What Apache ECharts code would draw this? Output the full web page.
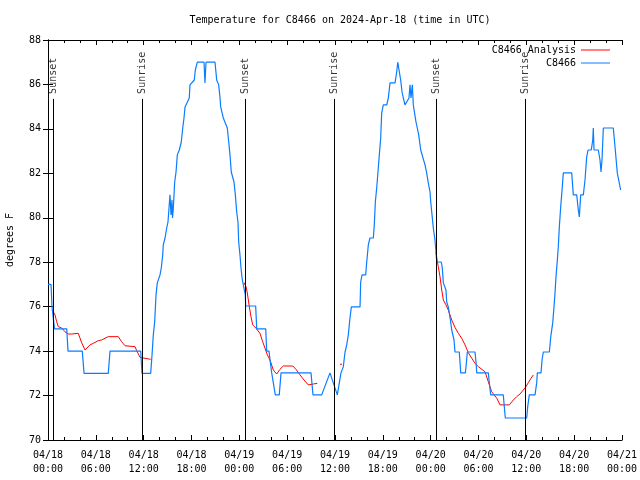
<!DOCTYPE html>
<html>
<head>
<meta charset="utf-8">
<script src="https://cdn.jsdelivr.net/npm/echarts@6/dist/echarts.min.js"></script>
<style>html,body{margin:0;padding:0;background:#fff}#c{width:640px;height:480px}</style>
</head>
<body>
<div id="c"></div>
<script>
// hours since 2024-04-18 00:00 UTC
const blueHours = [0.00,0.38,0.50,0.75,0.82,2.35,2.51,4.30,4.52,7.56,7.78,11.63,11.79,12.88,
13.05,13.21,13.38,13.55,13.71,14.05,14.21,14.39,14.46,14.68,14.89,15.05,15.30,15.43,15.55,15.62,15.72,15.89,16.06,16.22,16.47,16.72,16.90,17.06,17.19,17.72,17.81,18.35,18.48,18.73,19.57,19.69,19.82,20.95,21.16,21.41,21.58,21.66,21.99,22.49,22.67,22.83,22.99,23.33,23.50,23.67,23.83,23.92,24.08,24.21,24.34,24.50,24.75,24.80,
26.05,26.18,27.31,27.43,27.72,27.85,28.06,28.26,28.51,29.01,29.23,32.99,33.24,34.33,35.37,36.29,36.54,36.75,
37.04,37.26,37.47,37.67,37.88,38.05,39.14,39.22,39.39,39.85,39.98,40.18,40.39,40.81,40.93,41.06,41.23,41.43,41.56,41.73,41.86,42.06,42.49,42.69,42.90,43.53,43.74,43.87,44.07,44.24,44.41,44.57,44.78,44.99,45.28,45.41,45.53,45.70,45.82,46.16,46.32,46.50,46.75,47.29,47.50,47.70,47.92,48.01,48.17,48.33,48.54,48.67,48.76,
49.33,49.46,49.59,49.80,49.92,50.01,50.21,50.34,50.51,50.64,50.84,50.93,51.05,51.59,51.68,51.77,52.35,52.43,52.60,53.56,53.69,53.78,55.23,55.36,55.53,57.11,57.24,57.36,60.05,60.17,60.37,61.09,61.30,61.38,61.84,61.97,62.13,62.89,63.06,63.31,63.47,63.60,63.72,63.89,64.01,64.14,64.31,64.48,64.64,65.69,65.89,66.32,66.52,66.65,66.82,67.15,67.36,67.57,67.74,68.15,68.33,68.40,68.49,69.03,69.24,69.37,69.49,69.66,70.91,71.16,71.41,71.66,71.83];
const blueTemps = [77,77,76,76,75,75,74,74,73,73,74,74,73,73,
73.83,74.73,75.31,76.53,77.07,77.43,77.74,78.33,78.78,79.09,79.54,79.81,81.03,80.13,80.80,79.99,80.44,81.61,82.06,82.83,83.05,83.41,84.04,84.49,84.99,85.39,85.98,86.20,86.65,87.0,87.0,86.07,87.0,87.0,86.20,85.98,85.39,84.99,84.49,84.04,83.41,82.83,82.06,81.61,81.03,80.26,79.81,78.91,78.33,77.74,77.29,76.98,76.53,76.03,
76.03,75.0,75.0,74.0,74.0,73.6,73.02,73.02,72.03,72.03,73.02,73.02,72.03,72.03,73.02,72.03,72.03,73.02,
73.29,73.96,74.28,74.73,75.49,75.99,75.99,77.11,77.43,77.43,78.01,78.78,79.09,79.09,79.68,80.71,81.34,82.24,82.83,83.59,84.72,85.08,85.08,85.39,86.07,86.07,86.56,87.0,87.0,86.20,85.66,85.39,85.08,85.08,85.39,85.98,85.39,85.98,85.08,84.31,84.04,83.73,83.05,82.38,82.02,81.57,81.16,80.71,80.13,79.54,79.0,78.46,78.01,
78.01,77.74,77.07,77.07,76.75,76.21,75.99,75.99,75.31,74.95,74.95,74.50,73.96,73.96,73.51,73.02,73.02,73.29,73.96,73.96,73.51,73.02,73.02,72.57,72.03,72.03,71.49,70.99,70.99,71.49,72.03,72.03,72.57,73.02,73.02,73.60,73.96,73.96,74.64,75.27,75.99,76.62,77.34,78.10,78.69,79.59,80.49,81.25,82.02,82.02,81.03,81.03,80.35,80.04,81.03,81.03,81.70,82.74,83.05,83.05,83.50,84.04,83.05,83.05,82.60,82.06,82.60,84.04,84.04,83.05,82.02,82.02,81.25];

const redHours = [0.54,0.88,1.09,1.29,1.72,2.13,2.55,2.97,3.80,4.01,4.23,4.64,4.85,5.27,5.68,6.31,6.74,7.15,7.56,8.82,9.24,9.66,10.91,11.13,11.54,11.75,12.88,null,
24.59,24.84,25.00,25.25,25.46,25.68,26.09,26.59,26.93,27.22,27.51,27.85,28.26,28.69,29.10,29.52,30.70,31.11,31.61,32.11,32.65,33.28,33.78,null,
36.63,36.88,null,
48.67,48.83,48.96,49.17,49.39,49.59,49.92,50.21,50.64,51.05,51.47,51.89,52.31,52.72,53.15,53.56,53.98,54.82,55.23,55.66,56.29,56.70,57.87,58.37,58.79,59.21,59.62,59.96,60.25,60.59,60.88];
const redTemps = [75.85,75.63,75.32,75.10,75.04,74.87,74.77,74.77,74.80,74.59,74.37,74.05,74.10,74.28,74.35,74.47,74.50,74.58,74.65,74.65,74.42,74.24,74.20,74.02,73.72,73.66,73.63,null,
77.08,76.90,76.62,76.00,75.55,75.18,75.03,74.80,74.42,74.13,73.83,73.60,73.15,72.97,73.18,73.33,73.33,73.18,72.93,72.70,72.48,72.52,72.55,null,
73.41,73.41,null,
78.47,78.02,77.80,77.35,76.75,76.30,76.08,75.85,75.40,75.07,74.80,74.58,74.28,73.93,73.68,73.45,73.30,73.07,72.62,72.17,71.88,71.58,71.58,71.80,71.95,72.07,72.25,72.40,72.58,72.78,72.93];

const sunHours = [0.67, 11.83, 24.75, 35.92, 48.67, 59.88];
const sunLabels = ['Sunset', 'Sunrise', 'Sunset', 'Sunrise', 'Sunset', 'Sunrise'];
const sunLineTop = 85.35;
const sunLabelAt = 85.53;

const xTickLabels = ['04/18\n00:00','04/18\n06:00','04/18\n12:00','04/18\n18:00',
  '04/19\n00:00','04/19\n06:00','04/19\n12:00','04/19\n18:00',
  '04/20\n00:00','04/20\n06:00','04/20\n12:00','04/20\n18:00','04/21\n00:00'];

const FONT = 'DejaVu Sans Mono';
const blueData = blueHours.map((v, i) => [v, blueTemps[i]]);
const redData = redHours.map((v, i) => (v === null ? '-' : [v, redTemps[i]]));

const chart = echarts.init(document.getElementById('c'));
const axisCommon = {
  axisLine: { show: true, lineStyle: { color: '#000', width: 1 } },
  splitLine: { show: false }
};
chart.setOption({
  animation: false,
  backgroundColor: '#fff',
  textStyle: { fontFamily: FONT, color: '#000' },
  title: {
    text: 'Temperature for C8466 on 2024-Apr-18 (time in UTC)',
    left: 335, top: 10, textAlign: 'center',
    textStyle: { fontFamily: FONT, fontSize: 10, fontWeight: 'normal', color: '#000' }
  },
  legend: [
    { data: ['C8466 Analysis'], right: 30, top: 45, orient: 'vertical', align: 'right',
      icon: 'rect', itemWidth: 29, itemHeight: 1, padding: 0,
      textStyle: { fontFamily: FONT, fontSize: 10, color: '#000' } },
    { data: ['C8466'], right: 30, top: 58, orient: 'vertical', align: 'right',
      icon: 'rect', itemWidth: 29, itemHeight: 1, padding: 0,
      textStyle: { fontFamily: FONT, fontSize: 10, color: '#000' } }
  ],
  grid: { left: 48, right: 18, top: 40, bottom: 40, show: false, containLabel: false, outerBoundsMode: 'none' },
  xAxis: [
    Object.assign({
      type: 'value', min: 0, max: 72, interval: 6, position: 'bottom',
      axisTick: { show: true, inside: true, length: 5, lineStyle: { color: '#000' } },
      minorTick: { show: true, splitNumber: 3, length: 3, lineStyle: { color: '#000' } },
      axisLabel: { margin: 8, fontFamily: FONT, fontSize: 10, color: '#000', lineHeight: 14,
        formatter: v => xTickLabels[Math.round(v / 6)] }
    }, axisCommon),
    Object.assign({
      type: 'value', min: 0, max: 72, interval: 6, position: 'top',
      axisTick: { show: true, inside: true, length: 5, lineStyle: { color: '#000' } },
      minorTick: { show: true, splitNumber: 3, length: 3, lineStyle: { color: '#000' } },
      axisLabel: { show: false }
    }, axisCommon)
  ],
  yAxis: [
    Object.assign({
      type: 'value', min: 70, max: 88, interval: 2, position: 'left',
      name: 'degrees F', nameLocation: 'middle', nameGap: 33,
      nameTextStyle: { fontFamily: FONT, fontSize: 10, color: '#000' },
      axisTick: { show: true, inside: true, length: 5, lineStyle: { color: '#000' } },
      axisLabel: { margin: 7, fontFamily: FONT, fontSize: 10, color: '#000' }
    }, axisCommon),
    Object.assign({
      type: 'value', min: 70, max: 88, interval: 2, position: 'right',
      axisTick: { show: true, inside: true, length: 5, lineStyle: { color: '#000' } },
      axisLabel: { show: false }
    }, axisCommon)
  ],
  series: [
    {
      name: 'sun', type: 'scatter', symbolSize: 1,
      itemStyle: { color: 'rgba(0,0,0,0)' },
      data: sunHours.map((h, i) => ({ value: [h, sunLabelAt], name: sunLabels[i] })),
      label: { show: true, position: 'inside', rotate: 90, align: 'left', verticalAlign: 'middle',
        offset: [1, 0], formatter: p => p.name, fontFamily: FONT, fontSize: 10, color: '#000' },
      markLine: {
        silent: true, symbol: ['none', 'none'], label: { show: false },
        lineStyle: { color: '#000', width: 1, type: 'solid' },
        data: sunHours.map(h => [{ coord: [h, 70] }, { coord: [h, sunLineTop] }])
      },
      z: 1
    },
    {
      name: 'C8466 Analysis', type: 'line', data: redData, showSymbol: false, symbol: 'none',
      connectNulls: false, lineStyle: { color: '#ff0000', width: 1 }, itemStyle: { color: '#ff0000' },
      z: 2
    },
    {
      name: 'C8466', type: 'line', data: blueData, showSymbol: false, symbol: 'none',
      lineStyle: { color: '#0a7cff', width: 1.2 }, itemStyle: { color: '#0a7cff' },
      z: 3
    }
  ]
});
</script>
</body>
</html>
